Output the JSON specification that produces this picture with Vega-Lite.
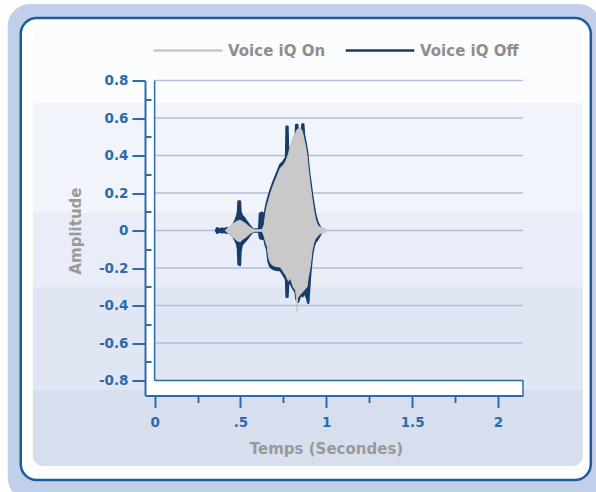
{
  "$schema": "https://vega.github.io/schema/vega-lite/v6.json",
  "width": 378,
  "height": 315,
  "autosize": {"type": "none"},
  "padding": {"left": 145, "top": 80.5, "right": 73, "bottom": 96.5},
  "background": "#ffffff",
  "config": {
    "view": {"stroke": null},
    "font": "DejaVu Sans",
    "axis": {
      "zindex": 1,
      "domainColor": "#2c6aab",
      "domainWidth": 2,
      "tickColor": "#2c6aab",
      "tickWidth": 2,
      "labelColor": "#2c6aab",
      "labelFont": "DejaVu Sans",
      "labelFontWeight": "bold",
      "labelFontSize": 13.5,
      "labelFlush": false,
      "labelOverlap": false,
      "labelBound": false,
      "grid": false,
      "titleFont": "DejaVu Sans",
      "titleFontWeight": "bold",
      "titleFontSize": 15,
      "titleColor": "#999999"
    },
    "legend": {"zindex": 1}
  },
  "resolve": {"axis": {"y": "independent"}},
  "data": {
    "values": [
      {"t": 0.358, "hi": 0, "lo": 0, "series": "Voice iQ Off"},
      {"t": 0.364, "hi": 0.012, "lo": -0.012, "series": "Voice iQ Off"},
      {"t": 0.375, "hi": 0.005, "lo": -0.006, "series": "Voice iQ Off"},
      {"t": 0.393, "hi": 0.01, "lo": -0.01, "series": "Voice iQ Off"},
      {"t": 0.405, "hi": 0.006, "lo": -0.006, "series": "Voice iQ Off"},
      {"t": 0.417, "hi": 0.012, "lo": -0.012, "series": "Voice iQ Off"},
      {"t": 0.434, "hi": 0.01, "lo": -0.01, "series": "Voice iQ Off"},
      {"t": 0.448, "hi": 0.02, "lo": -0.022, "series": "Voice iQ Off"},
      {"t": 0.459, "hi": 0.03, "lo": -0.03, "series": "Voice iQ Off"},
      {"t": 0.470, "hi": 0.05, "lo": -0.05, "series": "Voice iQ Off"},
      {"t": 0.480, "hi": 0.075, "lo": -0.07, "series": "Voice iQ Off"},
      {"t": 0.486, "hi": 0.1, "lo": -0.1, "series": "Voice iQ Off"},
      {"t": 0.489, "hi": 0.155, "lo": -0.18, "series": "Voice iQ Off"},
      {"t": 0.497, "hi": 0.155, "lo": -0.184, "series": "Voice iQ Off"},
      {"t": 0.500, "hi": 0.1, "lo": -0.11, "series": "Voice iQ Off"},
      {"t": 0.508, "hi": 0.08, "lo": -0.075, "series": "Voice iQ Off"},
      {"t": 0.523, "hi": 0.065, "lo": -0.06, "series": "Voice iQ Off"},
      {"t": 0.537, "hi": 0.045, "lo": -0.045, "series": "Voice iQ Off"},
      {"t": 0.557, "hi": 0.02, "lo": -0.02, "series": "Voice iQ Off"},
      {"t": 0.574, "hi": 0.005, "lo": -0.005, "series": "Voice iQ Off"},
      {"t": 0.609, "hi": 0.005, "lo": -0.005, "series": "Voice iQ Off"},
      {"t": 0.614, "hi": 0.09, "lo": -0.04, "series": "Voice iQ Off"},
      {"t": 0.627, "hi": 0.095, "lo": -0.045, "series": "Voice iQ Off"},
      {"t": 0.636, "hi": 0.06, "lo": -0.03, "series": "Voice iQ Off"},
      {"t": 0.648, "hi": 0.12, "lo": -0.08, "series": "Voice iQ Off"},
      {"t": 0.656, "hi": 0.154, "lo": -0.1, "series": "Voice iQ Off"},
      {"t": 0.664, "hi": 0.18, "lo": -0.166, "series": "Voice iQ Off"},
      {"t": 0.673, "hi": 0.207, "lo": -0.19, "series": "Voice iQ Off"},
      {"t": 0.683, "hi": 0.235, "lo": -0.2, "series": "Voice iQ Off"},
      {"t": 0.693, "hi": 0.26, "lo": -0.205, "series": "Voice iQ Off"},
      {"t": 0.713, "hi": 0.305, "lo": -0.21, "series": "Voice iQ Off"},
      {"t": 0.732, "hi": 0.35, "lo": -0.21, "series": "Voice iQ Off"},
      {"t": 0.751, "hi": 0.367, "lo": -0.237, "series": "Voice iQ Off"},
      {"t": 0.766, "hi": 0.39, "lo": -0.26, "series": "Voice iQ Off"},
      {"t": 0.769, "hi": 0.554, "lo": -0.353, "series": "Voice iQ Off"},
      {"t": 0.774, "hi": 0.554, "lo": -0.353, "series": "Voice iQ Off"},
      {"t": 0.777, "hi": 0.42, "lo": -0.29, "series": "Voice iQ Off"},
      {"t": 0.785, "hi": 0.44, "lo": -0.27, "series": "Voice iQ Off"},
      {"t": 0.797, "hi": 0.43, "lo": -0.29, "series": "Voice iQ Off"},
      {"t": 0.809, "hi": 0.48, "lo": -0.31, "series": "Voice iQ Off"},
      {"t": 0.822, "hi": 0.5, "lo": -0.33, "series": "Voice iQ Off"},
      {"t": 0.825, "hi": 0.563, "lo": -0.36, "series": "Voice iQ Off"},
      {"t": 0.831, "hi": 0.563, "lo": -0.38, "series": "Voice iQ Off"},
      {"t": 0.835, "hi": 0.5, "lo": -0.38, "series": "Voice iQ Off"},
      {"t": 0.846, "hi": 0.52, "lo": -0.35, "series": "Voice iQ Off"},
      {"t": 0.858, "hi": 0.53, "lo": -0.34, "series": "Voice iQ Off"},
      {"t": 0.861, "hi": 0.566, "lo": -0.35, "series": "Voice iQ Off"},
      {"t": 0.866, "hi": 0.566, "lo": -0.34, "series": "Voice iQ Off"},
      {"t": 0.870, "hi": 0.51, "lo": -0.33, "series": "Voice iQ Off"},
      {"t": 0.878, "hi": 0.474, "lo": -0.34, "series": "Voice iQ Off"},
      {"t": 0.888, "hi": 0.42, "lo": -0.36, "series": "Voice iQ Off"},
      {"t": 0.895, "hi": 0.35, "lo": -0.385, "series": "Voice iQ Off"},
      {"t": 0.901, "hi": 0.3, "lo": -0.3, "series": "Voice iQ Off"},
      {"t": 0.907, "hi": 0.26, "lo": -0.22, "series": "Voice iQ Off"},
      {"t": 0.917, "hi": 0.19, "lo": -0.13, "series": "Voice iQ Off"},
      {"t": 0.926, "hi": 0.136, "lo": -0.086, "series": "Voice iQ Off"},
      {"t": 0.936, "hi": 0.083, "lo": -0.06, "series": "Voice iQ Off"},
      {"t": 0.946, "hi": 0.05, "lo": -0.05, "series": "Voice iQ Off"},
      {"t": 0.955, "hi": 0.03, "lo": -0.035, "series": "Voice iQ Off"},
      {"t": 0.965, "hi": 0.015, "lo": -0.02, "series": "Voice iQ Off"},
      {"t": 0.977, "hi": 0, "lo": 0, "series": "Voice iQ Off"},

      {"t": 0.411, "hi": 0, "lo": 0, "series": "Voice iQ On"},
      {"t": 0.428, "hi": 0.015, "lo": -0.015, "series": "Voice iQ On"},
      {"t": 0.446, "hi": 0.025, "lo": -0.025, "series": "Voice iQ On"},
      {"t": 0.463, "hi": 0.04, "lo": -0.04, "series": "Voice iQ On"},
      {"t": 0.481, "hi": 0.05, "lo": -0.055, "series": "Voice iQ On"},
      {"t": 0.498, "hi": 0.055, "lo": -0.06, "series": "Voice iQ On"},
      {"t": 0.516, "hi": 0.045, "lo": -0.045, "series": "Voice iQ On"},
      {"t": 0.533, "hi": 0.035, "lo": -0.035, "series": "Voice iQ On"},
      {"t": 0.551, "hi": 0.02, "lo": -0.02, "series": "Voice iQ On"},
      {"t": 0.568, "hi": 0.01, "lo": -0.01, "series": "Voice iQ On"},
      {"t": 0.586, "hi": 0.004, "lo": -0.004, "series": "Voice iQ On"},
      {"t": 0.627, "hi": 0.004, "lo": -0.004, "series": "Voice iQ On"},
      {"t": 0.638, "hi": 0.03, "lo": -0.03, "series": "Voice iQ On"},
      {"t": 0.648, "hi": 0.1, "lo": -0.065, "series": "Voice iQ On"},
      {"t": 0.656, "hi": 0.135, "lo": -0.085, "series": "Voice iQ On"},
      {"t": 0.664, "hi": 0.16, "lo": -0.145, "series": "Voice iQ On"},
      {"t": 0.673, "hi": 0.19, "lo": -0.17, "series": "Voice iQ On"},
      {"t": 0.683, "hi": 0.218, "lo": -0.182, "series": "Voice iQ On"},
      {"t": 0.693, "hi": 0.243, "lo": -0.188, "series": "Voice iQ On"},
      {"t": 0.713, "hi": 0.288, "lo": -0.193, "series": "Voice iQ On"},
      {"t": 0.732, "hi": 0.332, "lo": -0.195, "series": "Voice iQ On"},
      {"t": 0.751, "hi": 0.35, "lo": -0.22, "series": "Voice iQ On"},
      {"t": 0.765, "hi": 0.37, "lo": -0.24, "series": "Voice iQ On"},
      {"t": 0.780, "hi": 0.41, "lo": -0.27, "series": "Voice iQ On"},
      {"t": 0.790, "hi": 0.45, "lo": -0.25, "series": "Voice iQ On"},
      {"t": 0.807, "hi": 0.5, "lo": -0.3, "series": "Voice iQ On"},
      {"t": 0.822, "hi": 0.52, "lo": -0.32, "series": "Voice iQ On"},
      {"t": 0.826, "hi": 0.53, "lo": -0.36, "series": "Voice iQ On"},
      {"t": 0.829, "hi": 0.535, "lo": -0.433, "series": "Voice iQ On"},
      {"t": 0.832, "hi": 0.54, "lo": -0.36, "series": "Voice iQ On"},
      {"t": 0.849, "hi": 0.545, "lo": -0.34, "series": "Voice iQ On"},
      {"t": 0.860, "hi": 0.53, "lo": -0.33, "series": "Voice iQ On"},
      {"t": 0.878, "hi": 0.455, "lo": -0.31, "series": "Voice iQ On"},
      {"t": 0.888, "hi": 0.4, "lo": -0.3, "series": "Voice iQ On"},
      {"t": 0.895, "hi": 0.33, "lo": -0.25, "series": "Voice iQ On"},
      {"t": 0.907, "hi": 0.24, "lo": -0.19, "series": "Voice iQ On"},
      {"t": 0.917, "hi": 0.17, "lo": -0.11, "series": "Voice iQ On"},
      {"t": 0.926, "hi": 0.115, "lo": -0.07, "series": "Voice iQ On"},
      {"t": 0.936, "hi": 0.065, "lo": -0.045, "series": "Voice iQ On"},
      {"t": 0.946, "hi": 0.035, "lo": -0.035, "series": "Voice iQ On"},
      {"t": 0.955, "hi": 0.022, "lo": -0.022, "series": "Voice iQ On"},
      {"t": 0.971, "hi": 0.015, "lo": -0.015, "series": "Voice iQ On"},
      {"t": 0.994, "hi": 0.01, "lo": -0.01, "series": "Voice iQ On"},
      {"t": 1.006, "hi": 0, "lo": 0, "series": "Voice iQ On"}
    ]
  },
  "layer": [
    {
      "data": {"values": [{}]},
      "mark": {"type": "rect", "fill": "#c1cfea", "cornerRadius": 22},
      "encoding": {
        "x": {"datum": -0.8556, "type": "quantitative", "scale": {"domain": [-0.056, 2.146], "nice": false, "zero": false}},
        "x2": {"datum": 2.599},
        "y": {"datum": 1.208, "type": "quantitative", "scale": {"domain": [-0.88, 0.8], "nice": false, "zero": false}, "axis": null},
        "y2": {"datum": -1.437}
      }
    },
    {
      "data": {"values": [{}]},
      "mark": {"type": "rect", "fill": "#ffffff", "stroke": "#1d5c9c", "strokeWidth": 2.5, "cornerRadius": 16},
      "encoding": {
        "x": {"datum": -0.7797, "type": "quantitative", "scale": {"domain": [-0.056, 2.146], "nice": false, "zero": false}},
        "x2": {"datum": 2.541},
        "y": {"datum": 1.1333, "type": "quantitative", "scale": {"domain": [-0.88, 0.8], "nice": false, "zero": false}, "axis": null},
        "y2": {"datum": -1.3307}
      }
    },
    {
      "data": {"values": [{}]},
      "mark": {
        "type": "rect",
        "cornerRadius": 10,
        "fill": {
          "gradient": "linear", "x1": 0, "y1": 0, "x2": 0, "y2": 1,
          "stops": [
            {"offset": 0, "color": "#fbfcfe"},
            {"offset": 0.179, "color": "#fbfcfe"},
            {"offset": 0.179, "color": "#f1f4fa"},
            {"offset": 0.428, "color": "#f1f4fa"},
            {"offset": 0.428, "color": "#e8edf7"},
            {"offset": 0.595, "color": "#e8edf7"},
            {"offset": 0.595, "color": "#e0e6f3"},
            {"offset": 0.828, "color": "#e0e6f3"},
            {"offset": 0.828, "color": "#d7dfef"},
            {"offset": 1, "color": "#d7dfef"}
          ]
        }
      },
      "encoding": {
        "x": {"datum": -0.7097, "type": "quantitative", "scale": {"domain": [-0.056, 2.146], "nice": false, "zero": false}},
        "x2": {"datum": 2.4943},
        "y": {"datum": 1.1013, "type": "quantitative", "scale": {"domain": [-0.88, 0.8], "nice": false, "zero": false}, "axis": null},
        "y2": {"datum": -1.256}
      }
    },
    {
      "data": {"values": [{"g": 0.8}, {"g": 0.6}, {"g": 0.4}, {"g": 0.2}, {"g": 0}, {"g": -0.2}, {"g": -0.4}, {"g": -0.6}]},
      "mark": {"type": "rule", "stroke": "#b3bedb", "strokeWidth": 1.5},
      "encoding": {
        "y": {
          "field": "g", "type": "quantitative",
          "scale": {"domain": [-0.88, 0.8], "nice": false, "zero": false},
          "axis": {
            "orient": "left",
            "title": null,
            "labels": false,
            "domain": false,
            "grid": false,
            "values": [-0.7, -0.5, -0.3, -0.1, 0.1, 0.3, 0.5, 0.7],
            "tickSize": -6,
            "zindex": 1
          }
        },
        "x": {"datum": 0, "type": "quantitative", "scale": {"domain": [-0.056, 2.146], "nice": false, "zero": false}},
        "x2": {"datum": 2.146}
      }
    },
    {
      "data": {"values": [{}]},
      "mark": {"type": "rect", "fill": "#ffffff"},
      "encoding": {
        "x": {"datum": -0.056, "type": "quantitative", "scale": {"domain": [-0.056, 2.146], "nice": false, "zero": false}},
        "x2": {"datum": 0},
        "y": {"datum": 0.8, "type": "quantitative", "scale": {"domain": [-0.88, 0.8], "nice": false, "zero": false}, "axis": null},
        "y2": {"datum": -0.88}
      }
    },
    {
      "data": {"values": [{}]},
      "mark": {"type": "rect", "fill": "#ffffff"},
      "encoding": {
        "x": {"datum": -0.056, "type": "quantitative", "scale": {"domain": [-0.056, 2.146], "nice": false, "zero": false}},
        "x2": {"datum": 2.146},
        "y": {"datum": -0.8, "type": "quantitative", "scale": {"domain": [-0.88, 0.8], "nice": false, "zero": false}, "axis": null},
        "y2": {"datum": -0.88}
      }
    },
    {
      "data": {"values": [{}]},
      "mark": {"type": "rule", "stroke": "#2c6aab", "strokeWidth": 1.5},
      "encoding": {
        "x": {"datum": 0, "type": "quantitative", "scale": {"domain": [-0.056, 2.146], "nice": false, "zero": false}},
        "y": {"datum": -0.8, "type": "quantitative", "scale": {"domain": [-0.88, 0.8], "nice": false, "zero": false}, "axis": null},
        "y2": {"datum": 0.8}
      }
    },
    {
      "data": {"values": [{}]},
      "mark": {"type": "rule", "stroke": "#2c6aab", "strokeWidth": 1.5},
      "encoding": {
        "x": {"datum": 0, "type": "quantitative", "scale": {"domain": [-0.056, 2.146], "nice": false, "zero": false}},
        "x2": {"datum": 2.146},
        "y": {"datum": -0.8, "type": "quantitative", "scale": {"domain": [-0.88, 0.8], "nice": false, "zero": false}, "axis": null}
      }
    },
    {
      "data": {"values": [{}]},
      "mark": {"type": "rule", "stroke": "#2c6aab", "strokeWidth": 1.5},
      "encoding": {
        "x": {"datum": 2.146, "type": "quantitative", "scale": {"domain": [-0.056, 2.146], "nice": false, "zero": false}},
        "y": {"datum": -0.8, "type": "quantitative", "scale": {"domain": [-0.88, 0.8], "nice": false, "zero": false}, "axis": null},
        "y2": {"datum": -0.88}
      }
    },
    {
      "transform": [{"filter": "datum.series == 'Voice iQ Off'"}],
      "mark": {"type": "area", "strokeWidth": 2.5, "strokeJoin": "round", "interpolate": "linear"},
      "encoding": {
        "x": {
          "field": "t", "type": "quantitative",
          "scale": {"domain": [-0.056, 2.146], "nice": false, "zero": false},
          "axis": {
            "title": "Temps (Secondes)",
            "values": [0, 0.25, 0.5, 0.75, 1, 1.25, 1.5, 1.75, 2],
            "labelExpr": "datum.value == 0.5 ? '.5' : datum.value == 1.5 ? '1.5' : (datum.value == 0 || datum.value == 1 || datum.value == 2) ? '' + datum.value : ''",
            "tickSize": {"condition": {"test": "indexof([0, 0.5, 1, 1.5, 2], datum.value) >= 0", "value": 12}, "value": 7},
            "labelPadding": 8,
            "labelOverlap": false,
            "labelFlush": false,
            "titleX": 181,
            "titleY": 53,
            "titleBaseline": "middle",
            "titleAlign": "center",
            "zindex": 1
          }
        },
        "y": {
          "field": "hi", "type": "quantitative",
          "scale": {"domain": [-0.88, 0.8], "nice": false, "zero": false},
          "axis": {
            "orient": "left",
            "title": "Amplitude",
            "values": [-0.8, -0.6, -0.4, -0.2, 0, 0.2, 0.4, 0.6, 0.8],
            "labelExpr": "datum.value == 0 ? '0' : (datum.value < 0 ? '-' : '') + format(abs(datum.value), '.1f')",
            "tickSize": 13,
            "labelPadding": 4,
            "labelOverlap": false,
            "labelFlush": false,
            "titleX": -70,
            "titleY": 150,
            "titleBaseline": "middle",
            "titleAlign": "center",
            "zindex": 1
          }
        },
        "y2": {"field": "lo"},
        "fill": {
          "field": "series", "type": "nominal",
          "scale": {"domain": ["Voice iQ On", "Voice iQ Off"], "range": ["#c9c9c9", "#173c6c"]},
          "legend": {
            "title": null,
            "orient": "none",
            "legendX": 7,
            "legendY": -66,
            "direction": "horizontal",
            "symbolType": "stroke",
            "symbolSize": 4700,
            "symbolStrokeWidth": 2.5,
            "labelFont": "DejaVu Sans",
            "labelFontWeight": "bold",
            "labelFontSize": 15,
            "labelColor": "#8e8e8e",
            "labelOffset": 4,
            "columnPadding": 14,
            "zindex": 1
          }
        },
        "stroke": {
          "field": "series", "type": "nominal",
          "scale": {"domain": ["Voice iQ On", "Voice iQ Off"], "range": ["#c9c9c9", "#173c6c"]},
          "legend": {
            "title": null,
            "orient": "none",
            "legendX": 7,
            "legendY": -66,
            "direction": "horizontal",
            "symbolType": "stroke",
            "symbolSize": 4700,
            "symbolStrokeWidth": 2.5,
            "labelFont": "DejaVu Sans",
            "labelFontWeight": "bold",
            "labelFontSize": 15,
            "labelColor": "#8e8e8e",
            "labelOffset": 4,
            "columnPadding": 14,
            "zindex": 1
          }
        }
      }
    },
    {
      "transform": [{"filter": "datum.series == 'Voice iQ On'"}],
      "mark": {"type": "area", "strokeWidth": 1, "interpolate": "linear"},
      "encoding": {
        "x": {"field": "t", "type": "quantitative", "scale": {"domain": [-0.056, 2.146], "nice": false, "zero": false}},
        "y": {"field": "hi", "type": "quantitative", "scale": {"domain": [-0.88, 0.8], "nice": false, "zero": false}, "axis": null},
        "y2": {"field": "lo"},
        "fill": {"field": "series", "type": "nominal", "scale": {"domain": ["Voice iQ On", "Voice iQ Off"], "range": ["#c9c9c9", "#173c6c"]}},
        "stroke": {"field": "series", "type": "nominal", "scale": {"domain": ["Voice iQ On", "Voice iQ Off"], "range": ["#c9c9c9", "#173c6c"]}}
      }
    }
  ]
}
